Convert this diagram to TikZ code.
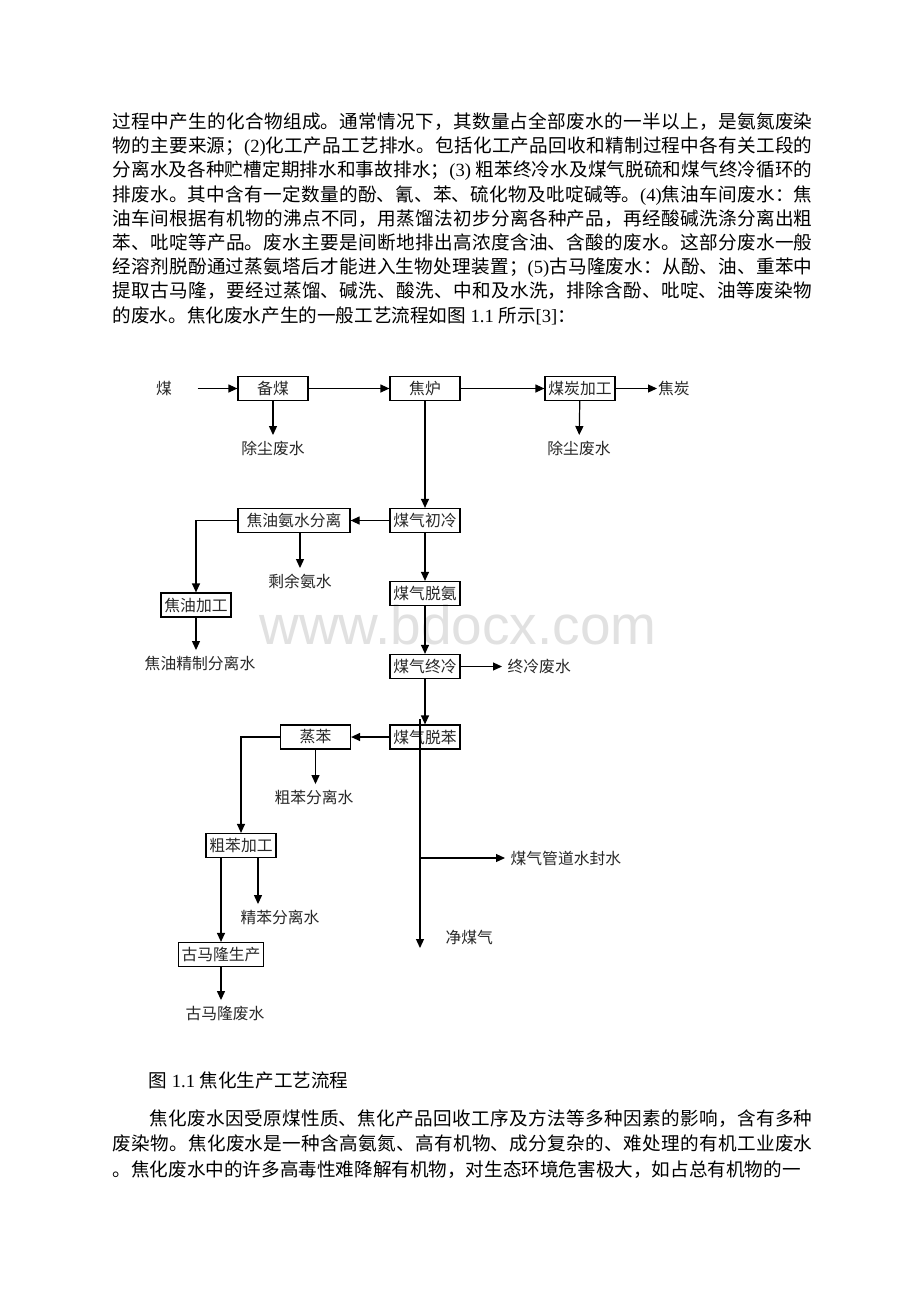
\documentclass[tikz,border=0pt]{standalone}
\usepackage{fontspec}
\setmainfont{Noto Sans CJK SC}
\newfontfamily\lat{Liberation Serif}
\newfontfamily\wmfont{Liberation Sans}
\usetikzlibrary{arrows.meta,positioning}
\definecolor{myink}{RGB}{40,40,40}
\definecolor{mymark}{RGB}{225,225,225}
\XeTeXlinebreaklocale "zh"
\XeTeXlinebreakskip=0pt plus 3pt minus 0.4pt

\begin{document}
\begin{tikzpicture}[
  x=1pt, y=-1pt,
  line width=1.2pt,
  mybox/.style={
    draw,
    rectangle,
    minimum width=70pt,
    minimum height=24pt,
    inner xsep=3pt,
    inner ysep=0pt,
    text=myink,
    font=\fontsize{15.8}{16}\selectfont
    },
  mylabel/.style={
    inner sep=5pt,
    text=myink,
    font=\fontsize{15.8}{16}\selectfont
    },
  myarrow/.style={
    -{Triangle[length=9pt,width=8pt]}
  },
  mypara/.style={
    inner sep=0pt,
    anchor=north west,
    text width=700pt,
    align=justify,
    font=\fontsize{18.6}{24.2}\selectfont
  }
]
\fill[white] (0,0) rectangle (920,1302);
\useasboundingbox (0,0) rectangle (920,1302);

\node[text=mymark, inner sep=0pt, text depth=0pt, font=\wmfont\fontsize{55}{55}\selectfont, anchor=base] (mark) at (458,644) {www.bdocx.com};

\node[mypara] (toptext) at (112,112) {%
过程中产生的化合物组成。通常情况下，其数量占全部废水的一半以上，是氨氮废染\linebreak
物的主要来源；{\lat (2)}化工产品工艺排水。包括化工产品回收和精制过程中各有关工段的\linebreak
分离水及各种贮槽定期排水和事故排水；{\lat (3) }粗苯终冷水及煤气脱硫和煤气终冷循环的\linebreak
排废水。其中含有一定数量的酚、氰、苯、硫化物及吡啶碱等。{\lat (4)}焦油车间废水：焦\linebreak
油车间根据有机物的沸点不同，用蒸馏法初步分离各种产品，再经酸碱洗涤分离出粗\linebreak
苯、吡啶等产品。废水主要是间断地排出高浓度含油、含酸的废水。这部分废水一般\linebreak
经溶剂脱酚通过蒸氨塔后才能进入生物处理装置；{\lat (5)}古马隆废水：从酚、油、重苯中\linebreak
提取古马隆，要经过蒸馏、碱洗、酸洗、中和及水洗，排除含酚、吡啶、油等废染物\linebreak
的废水。焦化废水产生的一般工艺流程如图{\lat\ 1.1 }所示{\lat [3]}：};

\node[mylabel] (coal) at (164,388.5) {煤};
\node[mybox] (beimei) at (273,388.5) {备煤};
\node[mybox] (jiaolu) at (425,388.5) {焦炉};
\node[mybox] (meitan) at (580,388.5) {煤炭加工};
\node[mylabel, anchor=west, inner xsep=0.5pt] (jiaotan) at (657,388.5) {焦炭};
\node[mylabel] (chuchenA) at (273,448) {除尘废水};
\node[mylabel] (chuchenB) at (579,448) {除尘废水};

\node[mybox] (chuleng) at (425,520.5) {煤气初冷};
\node[mybox, minimum width=112pt] (fenli) at (294,520.5) {焦油氨水分离};
\node[mylabel] (shengyu) at (300,581) {剩余氨水};
\node[mybox] (jiaoyou) at (196,605) {焦油加工};
\node[mylabel] (jyfl) at (200,663) {焦油精制分离水};
\node[mybox] (tuoan) at (425,593.5) {煤气脱氨};
\node[mybox] (zhongleng) at (425,666.5) {煤气终冷};
\node[mylabel, anchor=west] (zlfs) at (502,666.5) {终冷废水};
\node[mybox] (tuoben) at (425,737) {煤气脱苯};
\node[mybox] (zhengben) at (315.5,737) {蒸苯};
\node[mylabel] (cbfl) at (314,797) {粗苯分离水};
\node[mybox] (cubenjg) at (241,845.5) {粗苯加工};
\node[mylabel] (jbfl) at (280,917) {精苯分离水};
\node[mybox, minimum width=84pt] (gumalong) at (221,954.5) {古马隆生产};
\node[mylabel] (gmlfs) at (225,1013) {古马隆废水};
\node[mylabel, anchor=west] (sfs) at (505,858) {煤气管道水封水};
\node[mylabel, anchor=west] (jmq) at (440,937) {净煤气};
\coordinate (gasend) at (420,948);

\draw[myarrow] ([xshift=20pt]coal.east) -- (beimei);
\draw[myarrow] (beimei) -- (jiaolu);
\draw[myarrow] (jiaolu) -- (meitan);
\draw[myarrow] (meitan) -- (jiaotan.west);
\draw[myarrow] (beimei) -- (chuchenA);
\draw[myarrow] (meitan) -- (chuchenB);
\draw[myarrow] (jiaolu) -- (chuleng);
\draw[myarrow] (chuleng) -- (fenli);
\draw[myarrow] (fenli.west) -| (jiaoyou.north);
\draw[myarrow] (fenli.south -| shengyu) -- (shengyu.north);
\draw[myarrow] (jiaoyou.south) -- (jiaoyou.south |- jyfl.north);
\draw[myarrow] (chuleng) -- (tuoan);
\draw[myarrow] (tuoan) -- (zhongleng);
\draw[myarrow] (zhongleng) -- (zlfs.west);
\draw[myarrow] (zhongleng) -- (tuoben);
\draw[myarrow] (tuoben) -- (zhengben);
\draw[myarrow] (zhengben.west) -| (cubenjg.north);
\draw[myarrow] (zhengben.south) -- (zhengben.south |- cbfl.north);
\draw[myarrow] (cubenjg.south -| gumalong) -- (gumalong.north);
\draw[myarrow] ([xshift=17pt]cubenjg.south) -- ([xshift=17pt]cubenjg.south |- jbfl.north);
\draw[myarrow] (gumalong.south) -- (gumalong.south |- gmlfs.north);
\draw[myarrow] ([shift={(-5,-5)}]tuoben.north) -- (gasend);
\draw[myarrow] (gasend |- sfs.west) -- (sfs.west);

\node[anchor=west, inner sep=0pt, font=\fontsize{18.6}{24.2}\selectfont] (caption) at (148,1080) {图{\lat\ 1.1 }焦化生产工艺流程};

\node[mypara, font=\fontsize{18.6}{25.5}\selectfont] (bottext) at (112,1109) {%
\noindent\parfillskip=0pt\hspace*{37pt}焦化废水因受原煤性质、焦化产品回收工序及方法等多种因素的影响，含有多种\linebreak
废染物。焦化废水是一种含高氨氮、高有机物、成分复杂的、难处理的有机工业废水\linebreak
。焦化废水中的许多高毒性难降解有机物，对生态环境危害极大，如占总有机物的一};
\end{tikzpicture}
\end{document}
